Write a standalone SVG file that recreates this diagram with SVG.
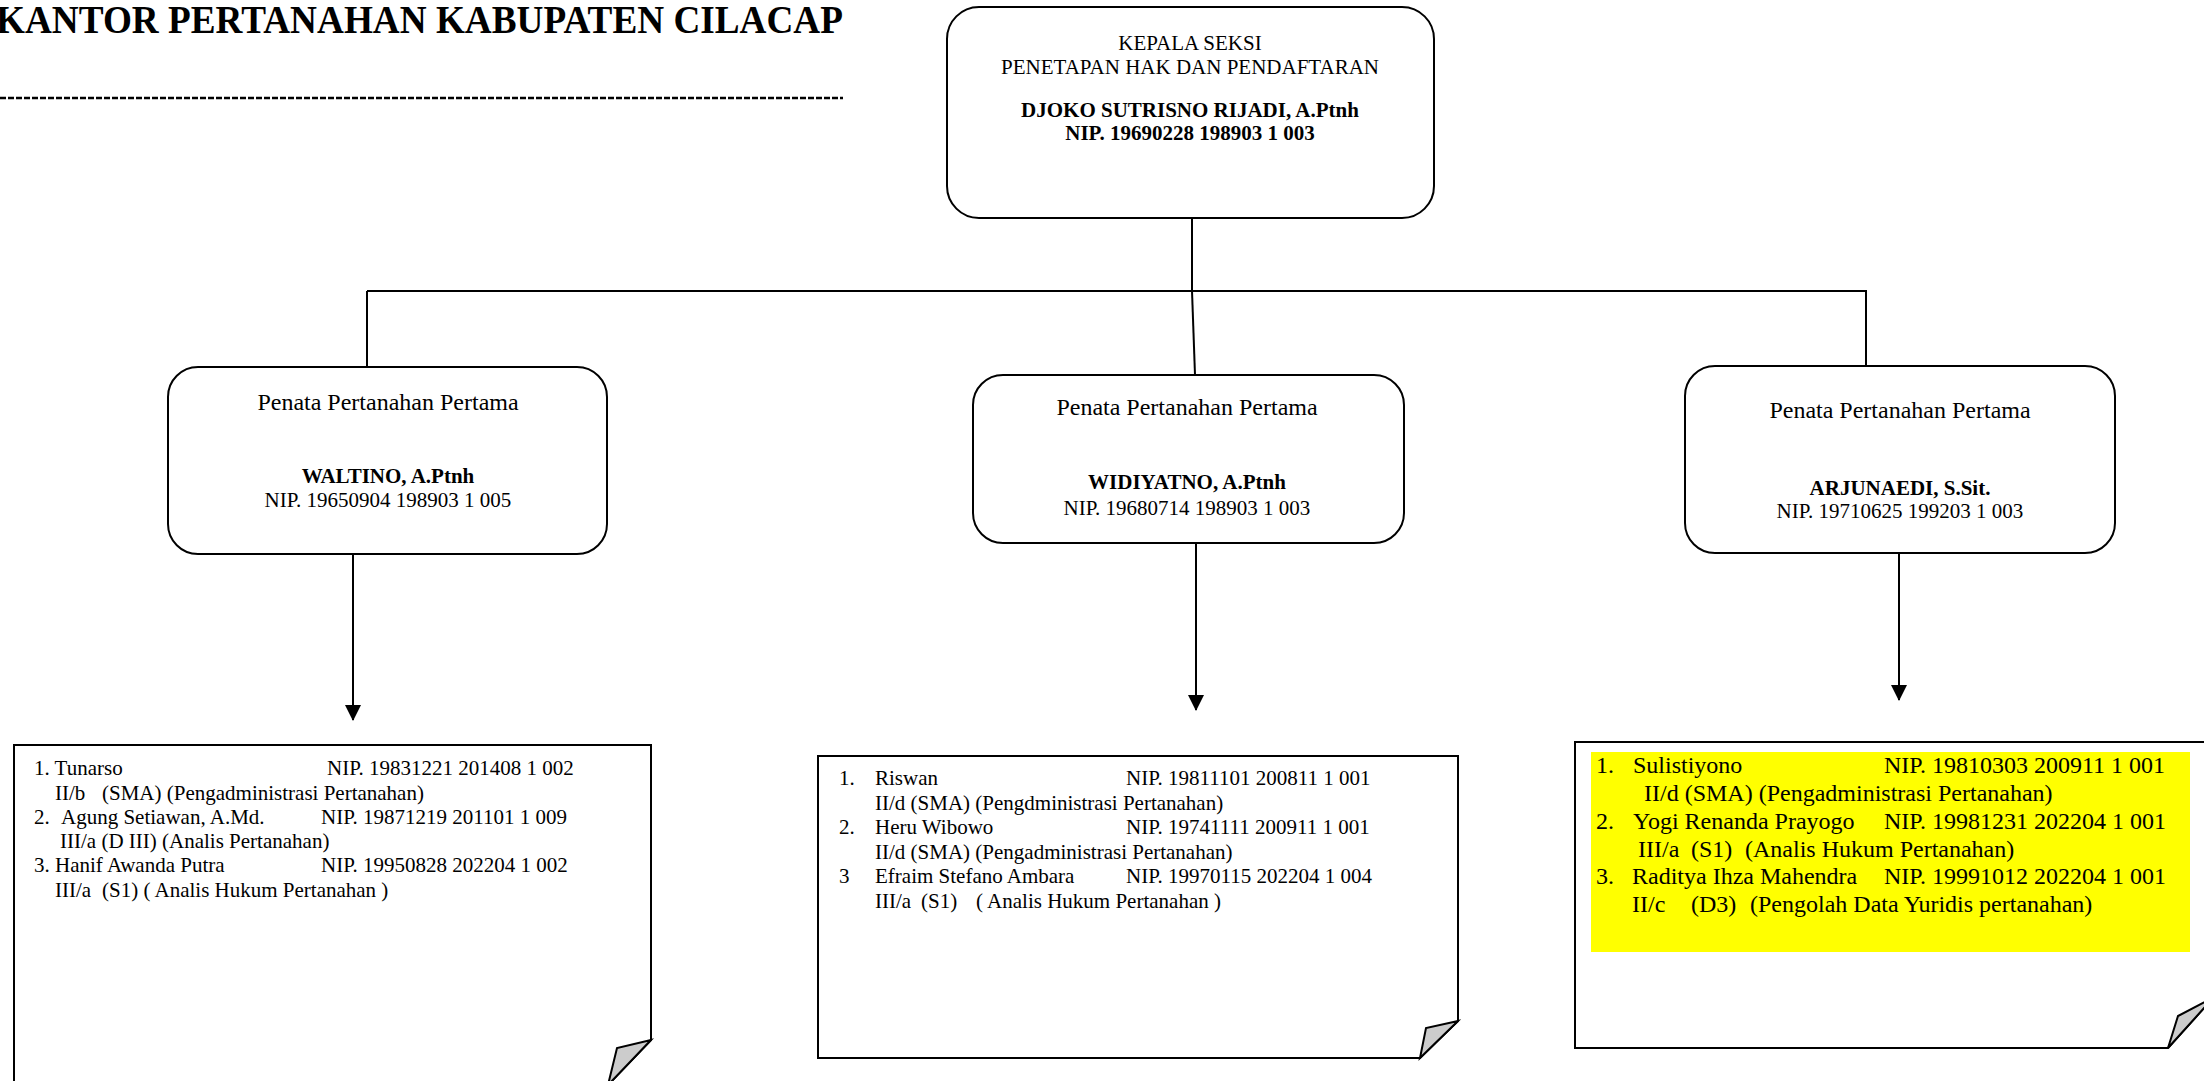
<svg xmlns="http://www.w3.org/2000/svg" width="2204" height="1081" viewBox="0 0 2204 1081">
<style>
text{font-family:"Liberation Serif","Times New Roman",serif;fill:#000;white-space:pre}
.c{text-anchor:middle}
.b{font-weight:bold}
.s21{font-size:21px}
.s24{font-size:24px}
.box{fill:#fff;stroke:#000;stroke-width:2}
.curl{fill:#cccccc;stroke:#000;stroke-width:2;stroke-linejoin:miter}
.ln{fill:none;stroke:#000;stroke-width:2}
</style>
<defs>
<marker id="arr" viewBox="0 0 16 16" markerWidth="16" markerHeight="16" refX="15" refY="8" orient="auto" markerUnits="userSpaceOnUse">
<path d="M0,0 L16,8 L0,16 z" fill="#000"/>
</marker>
</defs>
<rect width="2204" height="1081" fill="#fff"/>

<g id="title">
<text x="-4" y="33" class="b" font-size="39" textLength="847" lengthAdjust="spacingAndGlyphs">KANTOR PERTANAHAN KABUPATEN CILACAP</text>
<line x1="0" y1="98" x2="843" y2="98" stroke="#000" stroke-width="2.5" stroke-dasharray="6 2"/>
</g>

<g id="connectors">
<line class="ln" x1="1192" y1="218" x2="1192" y2="291"/>
<line class="ln" x1="367" y1="291" x2="1867" y2="291"/>
<line class="ln" x1="367" y1="291" x2="367" y2="368"/>
<line class="ln" x1="1192" y1="291" x2="1195" y2="375"/>
<line class="ln" x1="1866" y1="291" x2="1866" y2="367"/>
<line class="ln" x1="353" y1="555" x2="353" y2="720" marker-end="url(#arr)"/>
<line class="ln" x1="1196" y1="544" x2="1196" y2="710" marker-end="url(#arr)"/>
<line class="ln" x1="1899" y1="554" x2="1899" y2="700" marker-end="url(#arr)"/>
</g>

<g id="kepala">
<rect class="box" x="947" y="7" width="487" height="211" rx="32"/>
<text class="c s21" x="1190" y="50">KEPALA SEKSI</text>
<text class="c s21" x="1190" y="74">PENETAPAN HAK DAN PENDAFTARAN</text>
<text class="c s21 b" x="1190" y="117">DJOKO SUTRISNO RIJADI, A.Ptnh</text>
<text class="c s21 b" x="1190" y="140">NIP. 19690228 198903 1 003</text>
</g>

<g id="waltino">
<rect class="box" x="168" y="367" width="439" height="187" rx="30"/>
<text class="c s24" x="388" y="410">Penata Pertanahan Pertama</text>
<text class="c s21 b" x="388" y="483">WALTINO, A.Ptnh</text>
<text class="c s21" x="388" y="507">NIP. 19650904 198903 1 005</text>
</g>

<g id="widiyatno">
<rect class="box" x="973" y="375" width="431" height="168" rx="30"/>
<text class="c s24" x="1187" y="415">Penata Pertanahan Pertama</text>
<text class="c s21 b" x="1187" y="489">WIDIYATNO, A.Ptnh</text>
<text class="c s21" x="1187" y="515">NIP. 19680714 198903 1 003</text>
</g>

<g id="arjunaedi">
<rect class="box" x="1685" y="366" width="430" height="187" rx="30"/>
<text class="c s24" x="1900" y="418">Penata Pertanahan Pertama</text>
<text class="c s21 b" x="1900" y="495">ARJUNAEDI, S.Sit.</text>
<text class="c s21" x="1900" y="518">NIP. 19710625 199203 1 003</text>
</g>

<g id="staff-left">
<path class="box" d="M14,745 H651 V1040 L608,1085 H14 Z"/>
<path class="curl" d="M651,1040 L617,1048 L608,1085 Z"/>
<text class="s21" y="775"><tspan x="34">1. Tunarso</tspan><tspan x="327">NIP. 19831221 201408 1 002</tspan></text>
<text class="s21" y="800"><tspan x="55">II/b</tspan><tspan x="102">(SMA) (Pengadministrasi Pertanahan)</tspan></text>
<text class="s21" y="824"><tspan x="34">2.</tspan><tspan x="61">Agung Setiawan, A.Md.</tspan><tspan x="321">NIP. 19871219 201101 1 009</tspan></text>
<text class="s21" y="848"><tspan x="60">III/a (D III) (Analis Pertanahan)</tspan></text>
<text class="s21" y="872"><tspan x="34">3. Hanif Awanda Putra</tspan><tspan x="321">NIP. 19950828 202204 1 002</tspan></text>
<text class="s21" y="897"><tspan x="55">III/a</tspan><tspan x="102">(S1) ( Analis Hukum Pertanahan )</tspan></text>
</g>

<g id="staff-middle">
<path class="box" d="M818,756 H1458 V1021 L1420,1058 H818 Z"/>
<path class="curl" d="M1458,1021 L1426,1028 L1420,1058 Z"/>
<text class="s21" y="785"><tspan x="839">1.</tspan><tspan x="875">Riswan</tspan><tspan x="1126">NIP. 19811101 200811 1 001</tspan></text>
<text class="s21" y="810"><tspan x="875">II/d (SMA) (Pengdministrasi Pertanahan)</tspan></text>
<text class="s21" y="834"><tspan x="839">2.</tspan><tspan x="875">Heru Wibowo</tspan><tspan x="1126">NIP. 19741111 200911 1 001</tspan></text>
<text class="s21" y="859"><tspan x="875">II/d (SMA) (Pengadministrasi Pertanahan)</tspan></text>
<text class="s21" y="883"><tspan x="839">3</tspan><tspan x="875">Efraim Stefano Ambara</tspan><tspan x="1126">NIP. 19970115 202204 1 004</tspan></text>
<text class="s21" y="908"><tspan x="875">III/a</tspan><tspan x="921">(S1)</tspan><tspan x="976">( Analis Hukum Pertanahan )</tspan></text>
</g>

<g id="staff-right">
<path class="box" d="M1575,742 H2214 V997 L2168,1048 H1575 Z"/>
<path class="curl" d="M2214,997 L2178,1016 L2168,1048 Z"/>
<rect x="1591" y="752" width="599" height="200" fill="#ffff00"/>
<text class="s24" y="773"><tspan x="1596">1.</tspan><tspan x="1633">Sulistiyono</tspan><tspan x="1884">NIP. 19810303 200911 1 001</tspan></text>
<text class="s24" y="801"><tspan x="1644">II/d (SMA) (Pengadministrasi Pertanahan)</tspan></text>
<text class="s24" y="829"><tspan x="1596">2.</tspan><tspan x="1633">Yogi Renanda Prayogo</tspan><tspan x="1884">NIP. 19981231 202204 1 001</tspan></text>
<text class="s24" y="857"><tspan x="1638">III/a</tspan><tspan x="1691">(S1)</tspan><tspan x="1745">(Analis Hukum Pertanahan)</tspan></text>
<text class="s24" y="884"><tspan x="1596">3.</tspan><tspan x="1632">Raditya Ihza Mahendra</tspan><tspan x="1884">NIP. 19991012 202204 1 001</tspan></text>
<text class="s24" y="912"><tspan x="1632">II/c</tspan><tspan x="1691">(D3)</tspan><tspan x="1750">(Pengolah Data Yuridis pertanahan)</tspan></text>
</g>
</svg>
